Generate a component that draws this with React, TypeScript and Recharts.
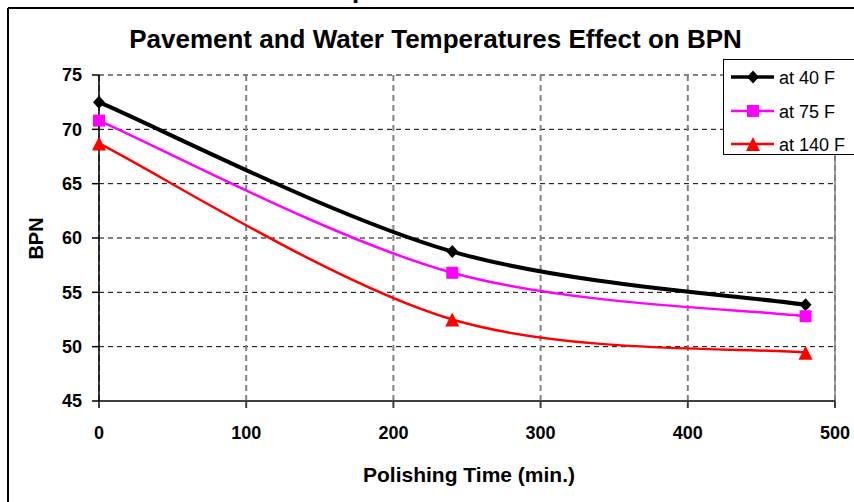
import React from 'react';
import { LineChart, Line, XAxis, YAxis, CartesianGrid, Legend, ReferenceLine } from 'recharts';

const times = [0, 240, 480];
const at40 = [72.5, 58.75, 53.85];
const at75 = [70.8, 56.8, 52.8];
const at140 = [68.7, 52.5, 49.45];
const xTicks = [0, 100, 200, 300, 400, 500];
const yTicks = [45, 50, 55, 60, 65, 70, 75];
const seriesNames = ['at 40 F', 'at 75 F', 'at 140 F'];

const data = times.map((t, i) => ({ t, s40: at40[i], s75: at75[i], s140: at140[i] }));

const FONT = '"Liberation Sans", Arial, Helvetica, sans-serif';

// Excel-like smoothed line: Catmull-Rom bezier segments with duplicated endpoints
function excelSmooth(context: any) {
  let pts: [number, number][] = [];
  return {
    areaStart() {},
    areaEnd() {},
    lineStart() {
      pts = [];
    },
    lineEnd() {
      const n = pts.length;
      if (n === 0) return;
      context.moveTo(pts[0][0], pts[0][1]);
      for (let i = 0; i < n - 1; i++) {
        const p0 = pts[Math.max(i - 1, 0)];
        const p1 = pts[i];
        const p2 = pts[i + 1];
        const p3 = pts[Math.min(i + 2, n - 1)];
        context.bezierCurveTo(
          p1[0] + (p2[0] - p0[0]) / 6,
          p1[1] + (p2[1] - p0[1]) / 6,
          p2[0] - (p3[0] - p1[0]) / 6,
          p2[1] - (p3[1] - p1[1]) / 6,
          p2[0],
          p2[1]
        );
      }
    },
    point(x: number, y: number) {
      pts.push([+x, +y]);
    },
  };
}

const Diamond = ({ cx, cy, color }: any) => (
  <polygon points={`${cx},${cy - 6.5} ${cx + 6},${cy} ${cx},${cy + 6.5} ${cx - 6},${cy}`} fill={color} />
);
const Square = ({ cx, cy, color }: any) => (
  <rect x={cx - 6} y={cy - 6} width={12} height={12} fill={color} />
);
const Triangle = ({ cx, cy, color }: any) => (
  <polygon points={`${cx},${cy - 7} ${cx + 7},${cy + 7} ${cx - 7},${cy + 7}`} fill={color} />
);

const series = [
  { key: 's40', name: seriesNames[0], color: '#000000', width: 4, Marker: Diamond },
  { key: 's75', name: seriesNames[1], color: '#FF00FF', width: 2.5, Marker: Square },
  { key: 's140', name: seriesNames[2], color: '#FF0000', width: 2.5, Marker: Triangle },
];

const rowY = [17, 51, 84];

const LegendBox = () => (
  <div
    style={{
      width: 140,
      height: 96,
      border: '1px solid #000',
      background: '#fff',
      boxSizing: 'border-box',
    }}
  >
    <svg width={140} height={95} style={{ display: 'block' }}>
      {series.map((s, i) => {
        const M = s.Marker;
        return (
          <g key={s.key}>
            <line x1={7} x2={50} y1={rowY[i]} y2={rowY[i]} stroke={s.color} strokeWidth={s.width === 4 ? 3.5 : 2.5} />
            <M cx={29} cy={rowY[i]} color={s.color} />
            <text x={55} y={rowY[i] + 6.5} fontSize={18} fontFamily={FONT} fill="#000">
              {s.name}
            </text>
          </g>
        );
      })}
    </svg>
  </div>
);

export default function App() {
  return (
    <div
      style={{
        position: 'fixed',
        left: 0,
        top: 0,
        width: 854,
        height: 502,
        overflow: 'hidden',
        background: '#fff',
      }}
    >
      <LineChart
        width={854}
        height={502}
        data={data}
        margin={{ top: 75, right: 19, left: 0, bottom: 61 }}
      >
        <CartesianGrid horizontal={true} vertical={false} stroke="#000" strokeDasharray="5 4" strokeWidth={1} />
        <CartesianGrid horizontal={false} vertical={true} stroke="#808080" strokeDasharray="6 4" strokeWidth={2} />
        <XAxis
          dataKey="t"
          type="number"
          domain={[0, 500]}
          ticks={xTicks}
          height={40}
          stroke="#404040"
          strokeWidth={2}
          tickSize={7}
          tickMargin={18}
          tick={{ fill: '#000', fontSize: 18, fontWeight: 'bold', fontFamily: FONT }}
          interval={0}
        />
        <YAxis
          type="number"
          domain={[45, 75]}
          ticks={yTicks}
          width={99}
          stroke="#000"
          strokeWidth={1.5}
          tickSize={7}
          tickMargin={10}
          tick={{ fill: '#000', fontSize: 18, fontWeight: 'bold', fontFamily: FONT }}
          interval={0}
        />
        <ReferenceLine x={500} stroke="#808080" strokeWidth={1.5} />
        {series.map((s) => {
          const M = s.Marker;
          return (
            <Line
              key={s.key}
              dataKey={s.key}
              name={s.name}
              type={excelSmooth as any}
              stroke={s.color}
              strokeWidth={s.width}
              isAnimationActive={false}
              dot={(p: any) => <M key={`${s.key}-${p.index}`} cx={p.cx} cy={p.cy} color={s.color} />}
              activeDot={false}
            />
          );
        })}
        <Legend
          layout="vertical"
          align="center"
          verticalAlign="middle"
          content={() => <LegendBox />}
          wrapperStyle={{ position: 'absolute', left: 723, top: 59, width: 140, height: 96 }}
        />
      </LineChart>
      <svg
        width={854}
        height={502}
        style={{ position: 'absolute', left: 0, top: 0, pointerEvents: 'none' }}
      >
        <line x1={8} y1={8} x2={8} y2={502} stroke="#000" strokeWidth={2} />
        <line x1={8} y1={8} x2={854} y2={8} stroke="#000" strokeWidth={2} />
        <text x={352} y={-2} fontSize={26} fontWeight="bold" fontFamily={FONT} fill="#000">
          p
        </text>
        <text
          x={435.5}
          y={48}
          textAnchor="middle"
          fontSize={26}
          fontWeight="bold"
          fontFamily={FONT}
          fill="#000"
        >
          Pavement and Water Temperatures Effect on BPN
        </text>
        <text
          x={469}
          y={481.5}
          textAnchor="middle"
          fontSize={21}
          fontWeight="bold"
          fontFamily={FONT}
          fill="#000"
        >
          Polishing Time (min.)
        </text>
        <text
          x={0}
          y={0}
          transform="translate(42.5,238.5) rotate(-90)"
          textAnchor="middle"
          fontSize={20}
          fontWeight="bold"
          fontFamily={FONT}
          fill="#000"
        >
          BPN
        </text>
      </svg>
    </div>
  );
}
